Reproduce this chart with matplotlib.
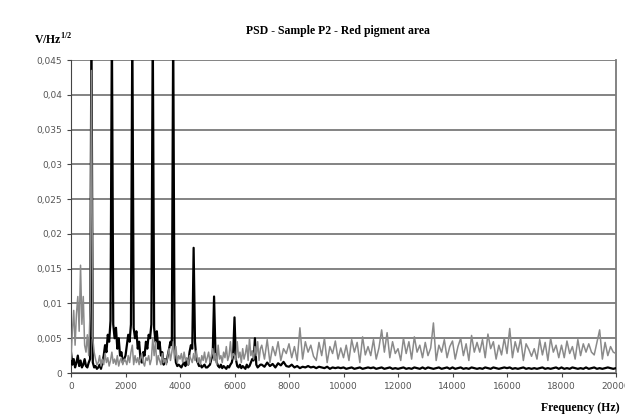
import numpy as np
import matplotlib
matplotlib.use("Agg")
import matplotlib.pyplot as plt
from matplotlib.ticker import FuncFormatter, MultipleLocator

# frequency grid: 50 Hz step up to 7 kHz, 100 Hz step above
freq = np.concatenate([np.arange(0, 7000, 50), np.arange(7000, 20001, 100)])

# PSD values, in units of 1e-4 V/Hz^1/2 (one row = 1000 Hz)
grey_psd_e4 = [
    20, 60, 90, 40, 85, 110, 60, 155, 70, 110, 40, 30, 55, 25, 90, 435, 50, 30, 20, 12,
    15, 25, 10, 20, 12, 28, 15, 22, 10, 18, 30, 14, 20, 12, 25, 10, 18, 22, 12, 20,
    18, 12, 25, 15, 30, 40, 12, 25, 15, 22, 12, 20, 28, 15, 10, 22, 18, 25, 12, 20,
    50, 25, 45, 12, 25, 18, 12, 28, 15, 20, 12, 25, 35, 18, 30, 45, 20, 38, 15, 25,
    20, 28, 15, 30, 18, 22, 12, 25, 20, 15, 28, 18, 32, 15, 22, 12, 25, 18, 30, 15,
    22, 30, 15, 25, 35, 18, 28, 12, 40, 20, 25, 15, 30, 22, 38, 18, 25, 45, 20, 28,
    25, 18, 45, 22, 30, 15, 35, 20, 28, 40, 18, 50, 25, 32, 20, 38, 25, 45, 18, 35,
    40, 20, 48, 15, 38, 25, 45, 18, 35, 28,
    42, 22, 38, 18, 65, 20, 45, 30, 40, 24,
    18, 44, 25, 50, 15, 38, 28, 46, 20, 36,
    22, 40, 18, 48, 30, 44, 15, 52, 26, 38,
    25, 48, 20, 36, 62, 30, 58, 22, 45, 28,
    35, 18, 50, 28, 45, 20, 52, 30, 40, 22,
    44, 25, 36, 72, 18, 40, 30, 48, 22, 38,
    46, 20, 38, 50, 25, 42, 18, 54, 30, 44,
    30, 48, 22, 56, 35, 45, 20, 40, 26, 50,
    28, 64, 22, 45, 30, 50, 18, 42, 34, 24,
    35, 20, 48, 26, 44, 18, 50, 30, 40, 22,
    40, 22, 46, 28, 38, 20, 48, 25, 42, 30,
    42, 30, 26, 44, 62, 20, 44, 25, 38, 30,
    28,
]
black_psd_e4 = [
    30, 12, 20, 8, 15, 25, 10, 18, 8, 12, 20, 10, 8, 15, 20, 500, 15, 8, 10, 6,
    8, 12, 6, 15, 25, 40, 30, 55, 45, 75, 500, 70, 50, 65, 35, 50, 25, 30, 15, 20,
    25, 40, 55, 45, 70, 500, 65, 50, 60, 35, 45, 20, 15, 30, 25, 45, 35, 55, 50, 70,
    500, 65, 45, 60, 35, 45, 25, 30, 12, 20, 15, 25, 35, 45, 40, 500, 35, 15, 10, 12,
    10, 8, 12, 15, 10, 20, 12, 30, 40, 35, 180, 45, 20, 15, 10, 12, 8, 10, 12, 8,
    8, 10, 12, 20, 25, 110, 30, 15, 10, 8, 12, 7, 10, 8, 6, 10, 8, 12, 15, 25,
    80, 20, 10, 8, 12, 7, 10, 8, 6, 12, 8, 10, 15, 20, 18, 50, 12, 8, 10, 12,
    12, 9, 15, 10, 13, 8, 14, 11, 16, 10,
    9, 12, 8, 10, 7, 9, 8, 10, 8, 9,
    7, 9, 8, 7, 9, 6, 8, 7, 8, 7,
    8, 6, 7, 8, 6, 7, 8, 6, 7, 8,
    7, 8, 6, 7, 8, 6, 7, 8, 6, 7,
    6, 7, 8, 6, 7, 6, 8, 7, 6, 8,
    6, 8, 7, 6, 7, 8, 6, 7, 8, 6,
    8, 6, 7, 8, 6, 7, 6, 8, 7, 6,
    7, 6, 8, 7, 6, 8, 7, 6, 7, 8,
    7, 8, 6, 7, 6, 7, 8, 6, 7, 6,
    7, 6, 7, 8, 6, 7, 6, 7, 8, 6,
    8, 6, 7, 6, 8, 7, 6, 7, 6, 8,
    6, 7, 8, 6, 7, 6, 7, 8, 7, 6,
    7,
]

grey_psd = np.array(grey_psd_e4) * 1e-4
black_psd = np.array(black_psd_e4) * 1e-4

fig = plt.figure(figsize=(6.25, 4.17), dpi=100)
ax = fig.add_axes([0.1136, 0.1055, 0.8720, 0.7505])

ax.plot(freq, black_psd, color="black", lw=1.6, zorder=3)
ax.plot(freq, grey_psd, color="#8a8a8a", lw=1.1, zorder=4)

ax.set_xlim(0, 20000)
ax.set_ylim(0, 0.045)
ax.xaxis.set_major_locator(MultipleLocator(2000))
ax.yaxis.set_major_locator(MultipleLocator(0.005))
ax.yaxis.set_major_formatter(FuncFormatter(lambda v, p: ("%g" % round(v, 4)).replace(".", ",")))

ax.grid(axis="y", color="#7a7a7a", lw=1.3)
ax.set_axisbelow(True)
ax.spines["top"].set_visible(False)
ax.spines["right"].set_color("#7a7a7a")
ax.spines["right"].set_linewidth(1.3)
ax.spines["left"].set_color("#444444")
ax.spines["bottom"].set_color("#444444")
ax.tick_params(direction="out", length=3, width=0.8, colors="#444444",
               labelsize=6.5, labelcolor="#555555")

serif = ["Liberation Serif", "DejaVu Serif"]
fig.text(0.54, 0.925, "PSD - Sample P2 - Red pigment area", ha="center", va="center",
         fontsize=8.5, fontweight="bold", family=serif)
fig.text(0.055, 0.905, r"V/Hz$^{\mathregular{1/2}}$", ha="left", va="center",
         fontsize=8.5, fontweight="bold", family=serif)
fig.text(0.992, 0.022, "Frequency (Hz)", ha="right", va="center",
         fontsize=8.5, fontweight="bold", family=serif)

plt.savefig("out.png", dpi=100)
